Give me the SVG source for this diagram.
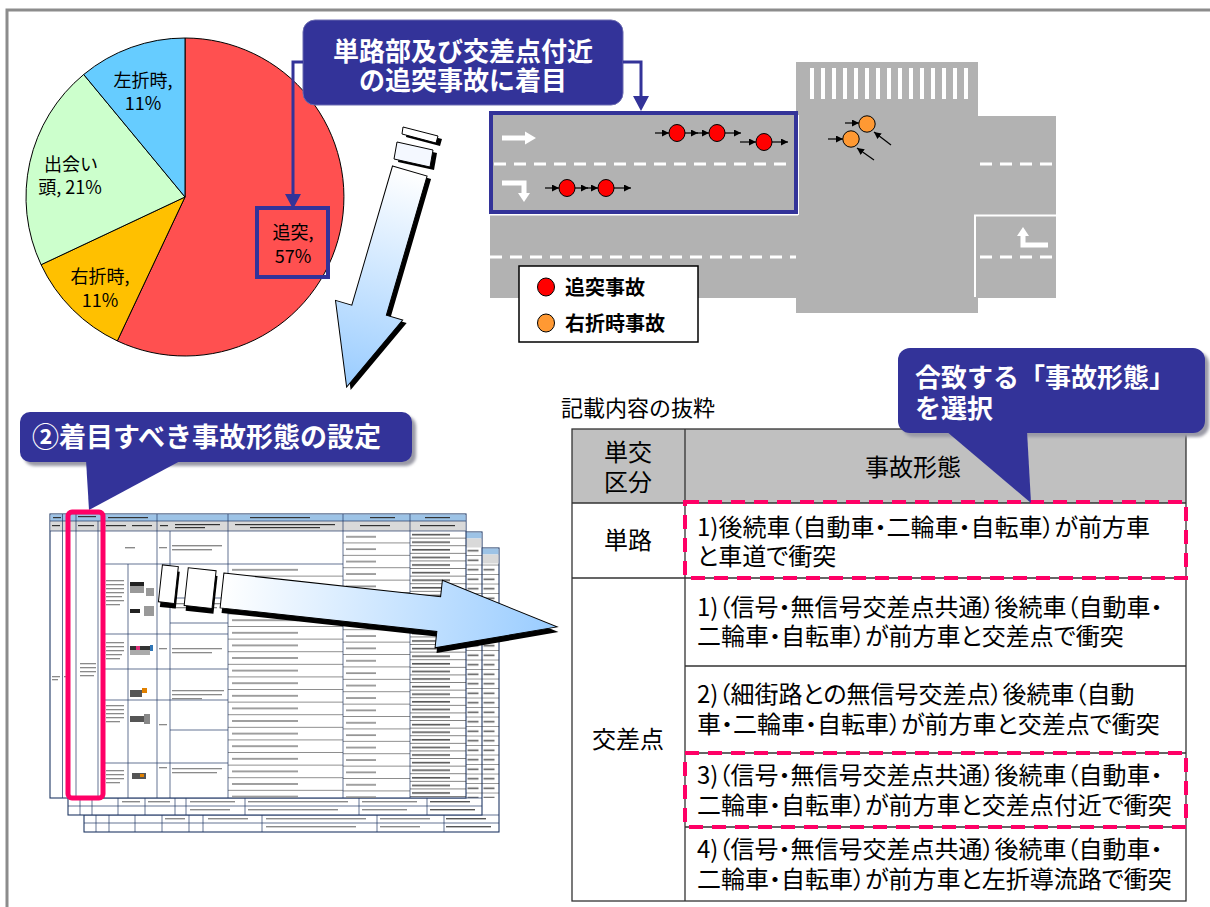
<svg xmlns="http://www.w3.org/2000/svg" width="1210" height="907" viewBox="0 0 1210 907">
<defs>
  <style>
    .jp{font-family:"Noto Sans CJK JP","Noto Sans",sans-serif;}
    .lbl{font-size:18px;fill:#000;text-anchor:middle;}
    .call{font-size:26px;font-weight:bold;fill:#fff;}
    .cell{font-size:24px;fill:#000;font-feature-settings:"palt";}
    .ctr{text-anchor:middle;}
    .grid{stroke:#333;stroke-width:1.3;fill:none;}
    .pink{fill:none;stroke:#FF0066;stroke-width:4;stroke-dasharray:14 9;}
    .navy{fill:#333399;}
    .lane{stroke:#fff;stroke-width:3;stroke-dasharray:12 8;fill:none;}
    .tick{stroke:#000;stroke-width:1.2;fill:none;marker-end:url(#ah);}
    .red{fill:#FF0000;stroke:#000;stroke-width:1;}
    .org{fill:#FF9933;stroke:#000;stroke-width:1;}
    .slice{stroke:#000;stroke-width:1;}
    .sg{stroke:#1F3864;stroke-width:0.7;fill:none;}
    .sheet{fill:#fff;stroke:#1F3864;stroke-width:1.1;}
    .tb{fill:#8a8a8a;}
    .dk{fill:#333;}
  </style>
  <marker id="ah" markerUnits="userSpaceOnUse" markerWidth="8" markerHeight="7" refX="7" refY="3.5" orient="auto">
    <path d="M0,0 L7,3.5 L0,7 z" fill="#000"/>
  </marker>
  <linearGradient id="gDown" x1="0" y1="0" x2="0" y2="1">
    <stop offset="0" stop-color="#FFFFFF"/>
    <stop offset="1" stop-color="#99CCFF"/>
  </linearGradient>
  <linearGradient id="gRight" x1="0" y1="0" x2="1" y2="0">
    <stop offset="0" stop-color="#FFFFFF"/>
    <stop offset="1" stop-color="#99CCFF"/>
  </linearGradient>
  <filter id="soft" x="-10%" y="-10%" width="120%" height="130%">
    <feGaussianBlur stdDeviation="1.6"/>
  </filter>
  <!-- cell fillers for the thumbnail sheets: row rules plus grey bars for tiny print -->
  <pattern id="pA" patternUnits="userSpaceOnUse" x="228" y="564" width="115" height="12.6">
    <rect x="4" y="5" width="66" height="1.6" class="tb"/>
    <rect x="0" y="12" width="115" height="0.6" fill="#444"/>
  </pattern>
  <pattern id="pB" patternUnits="userSpaceOnUse" x="343" y="531" width="67" height="12.4">
    <rect x="3" y="5" width="30" height="1.6" class="tb"/>
    <rect x="0" y="11.8" width="67" height="0.6" fill="#444"/>
  </pattern>
  <pattern id="pC" patternUnits="userSpaceOnUse" x="410" y="531" width="56" height="7.6">
    <rect x="2" y="2.8" width="38" height="1.6" fill="#555"/>
    <rect x="0" y="7" width="56" height="0.6" fill="#333"/>
  </pattern>
  <pattern id="pD" patternUnits="userSpaceOnUse" x="466" y="537" width="16" height="9.5">
    <rect x="1.5" y="3.5" width="11" height="1.5" fill="#555"/>
    <rect x="0" y="9" width="16" height="0.5" fill="#333"/>
  </pattern>
</defs>

<!-- page frame -->
<path d="M7,907 V10 H1210" fill="none" stroke="#8C8C8C" stroke-width="3"/>

<!-- pie chart of accident types -->
<g id="pie">
  <path class="slice" fill="#FF5050" d="M185,197 L185,38 A159,159 0 1,1 117.3,340.9 Z"/>
  <path class="slice" fill="#FFC000" d="M185,197 L117.3,340.9 A159,159 0 0,1 41.1,264.7 Z"/>
  <path class="slice" fill="#CCFFCC" d="M185,197 L41.1,264.7 A159,159 0 0,1 83.7,74.5 Z"/>
  <path class="slice" fill="#66CCFF" d="M185,197 L83.7,74.5 A159,159 0 0,1 185,38 Z"/>
  <text class="jp lbl" x="143" y="87">左折時,</text>
  <text class="jp lbl" x="143" y="110">11%</text>
  <text class="jp lbl" x="71" y="171">出会い</text>
  <text class="jp lbl" x="70" y="194">頭, 21%</text>
  <text class="jp lbl" x="100" y="283">右折時,</text>
  <text class="jp lbl" x="100" y="307">11%</text>
  <rect x="257" y="208" width="71" height="69" fill="none" stroke="#333399" stroke-width="4"/>
  <text class="jp lbl" x="293" y="239">追突,</text>
  <text class="jp lbl" x="293" y="263">57%</text>
</g>

<!-- road plan with accident positions -->
<g id="road">
  <rect x="490" y="112" width="308" height="186" fill="#B2B2B2"/>
  <rect x="796" y="62" width="182" height="251" fill="#B2B2B2"/>
  <rect x="976" y="116" width="80" height="182" fill="#B2B2B2"/>
  <!-- crosswalk -->
  <g fill="#fff">
    <rect x="810" y="68" width="4" height="31"/><rect x="821" y="68" width="4" height="31"/>
    <rect x="832" y="68" width="4" height="31"/><rect x="843" y="68" width="4" height="31"/>
    <rect x="854" y="68" width="4" height="31"/><rect x="865" y="68" width="4" height="31"/>
    <rect x="876" y="68" width="4" height="31"/><rect x="887" y="68" width="4" height="31"/>
    <rect x="898" y="68" width="4" height="31"/><rect x="909" y="68" width="4" height="31"/>
    <rect x="920" y="68" width="4" height="31"/><rect x="931" y="68" width="4" height="31"/>
    <rect x="942" y="68" width="4" height="31"/><rect x="953" y="68" width="4" height="31"/>
    <rect x="964" y="68" width="4" height="31"/>
  </g>
  <!-- lane edges -->
  <path d="M490,214.5 H798 M798,115 V215 M975,297 V215.5 H1056" fill="none" stroke="#fff" stroke-width="2"/>
  <path class="lane" d="M494,164 H794 M980,164 H1056 M490,257 H796 M980,257 H1056"/>
  <!-- road markings -->
  <path d="M502,138 H526" stroke="#fff" stroke-width="5"/>
  <polygon points="525,131.5 536,138 525,144.5" fill="#fff"/>
  <path d="M502,183 H524 V194" stroke="#fff" stroke-width="5" fill="none"/>
  <polygon points="518,193 530,193 524,202" fill="#fff"/>
  <path d="M1048,245 H1023 V234" stroke="#fff" stroke-width="5" fill="none"/>
  <polygon points="1017,236 1029,236 1023,227" fill="#fff"/>
  <!-- focus frame -->
  <rect x="491" y="113" width="305" height="99" fill="none" stroke="#333399" stroke-width="4"/>
</g>

<g id="accidents">
  <path class="tick" d="M655,133 H669"/>
  <path class="tick" d="M685,133 H698"/>
  <path class="tick" d="M697,133 H709"/>
  <path class="tick" d="M725,133 H741"/>
  <path class="tick" d="M740,142 H756" stroke-width="2"/>
  <path class="tick" d="M772,142 H788"/>
  <path class="tick" d="M545,188 H559"/>
  <path class="tick" d="M575,188 H588"/>
  <path class="tick" d="M587,188 H598"/>
  <path class="tick" d="M614,188 H631"/>
  <ellipse class="red" cx="677" cy="133" rx="8" ry="8.5"/>
  <ellipse class="red" cx="717" cy="133" rx="8" ry="8.5"/>
  <ellipse class="red" cx="764" cy="142" rx="8" ry="8.5"/>
  <ellipse class="red" cx="567" cy="188" rx="8" ry="8.5"/>
  <ellipse class="red" cx="606" cy="188" rx="8" ry="8.5"/>
  <path class="tick" d="M845,123 H859"/>
  <path class="tick" d="M828,139 H843"/>
  <path class="tick" d="M891,145 L874,132"/>
  <path class="tick" d="M874,160 L857,148"/>
  <circle class="org" cx="867" cy="124" r="8.2"/>
  <circle class="org" cx="851" cy="139" r="8.2"/>
</g>

<g id="legend">
  <rect x="519" y="266" width="179" height="76" fill="#fff" stroke="#000" stroke-width="1.5"/>
  <ellipse class="red" cx="546" cy="287" rx="8.5" ry="9"/>
  <ellipse class="org" cx="546" cy="323" rx="8.5" ry="9"/>
  <text class="jp" x="565" y="295" font-size="20" font-weight="bold">追突事故</text>
  <text class="jp" x="565" y="331" font-size="20" font-weight="bold">右折時事故</text>
</g>

<!-- callout: focus on rear-end collisions -->
<g id="callout-focus">
  <rect x="303" y="20" width="320" height="85" rx="12" class="navy" stroke="#6A6AB0" stroke-width="1"/>
  <text class="jp call ctr" x="463" y="61">単路部及び交差点付近</text>
  <text class="jp call ctr" x="463" y="90">の追突事故に着目</text>
</g>

<g id="connectors">
  <path d="M303,62 H293 V196" fill="none" stroke="#333399" stroke-width="3"/>
  <polygon points="285,194 301,194 293,209" fill="#333399"/>
  <path d="M623,62 H641 V98" fill="none" stroke="#333399" stroke-width="3"/>
  <polygon points="633,96 649,96 641,111" fill="#333399"/>
</g>

<!-- big downward arrow -->
<g id="arrow-down">
  <g fill="#000" transform="translate(4,3)">
    <polygon points="403,127 438,136 436,143 402,134"/>
    <polygon points="397,142 433,150 430,167 394,159"/>
    <polygon transform="translate(409.5,172) rotate(16.3)" points="-18,-1 18,-1 18,144 35,144 0,224 -35,144 -18,144"/>
  </g>
  <polygon points="403,127 438,136 436,143 402,134" fill="#fff" stroke="#000" stroke-width="1"/>
  <polygon points="397,142 433,150 430,167 394,159" fill="#F4F8FF" stroke="#000" stroke-width="1"/>
  <polygon transform="translate(409.5,172) rotate(16.3)" points="-18,-1 18,-1 18,144 35,144 0,224 -35,144 -18,144" fill="url(#gDown)" stroke="#000" stroke-width="1"/>
</g>

<!-- callout: setting the accident type -->
<g id="callout-setting">
  <g fill="#9A9AA6" filter="url(#soft)" transform="translate(4,4)">
    <rect x="20" y="412" width="392" height="50" rx="10"/>
  </g>
  <rect x="20" y="412" width="392" height="50" rx="10" class="navy"/>
  <polygon points="86,460 182,460 89,510" class="navy"/>
  <text class="jp" x="32" y="447" font-size="27" font-weight="bold" fill="#fff">②着目すべき事故形態の設定</text>
</g>

<!-- thumbnail of the accident-type sheets -->
<g id="sheets">
  <!-- back sheet -->
  <rect class="sheet" x="84" y="548" width="415" height="284"/>
  <rect x="84.5" y="548.5" width="414" height="6" fill="#9DC3E6"/>
  <rect x="84.5" y="554.5" width="414" height="9" fill="#D9D9D9"/>
  <rect x="482" y="564" width="17" height="234" fill="url(#pD)"/>
  <path class="sg" d="M84,815 H499 M84,823 H499 M96,815V832 M109,815V832 M135,815V832 M162,815V832 M189,815V832 M203,815V832 M262,815V832 M377,815V832 M444,815V832"/>
  <rect x="208" y="818" width="40" height="1.4" class="tb"/><rect x="266" y="818" width="100" height="1.4" class="tb"/>
  <rect x="380" y="818" width="50" height="1.4" class="tb"/><rect x="266" y="826" width="90" height="1.4" class="tb"/>
  <rect x="380" y="826" width="40" height="1.4" class="tb"/><rect x="446" y="818" width="40" height="1.4" fill="#555"/>
  <rect x="446" y="826" width="45" height="1.4" fill="#555"/><rect x="165" y="818" width="20" height="1.4" class="tb"/>
  <!-- middle sheet -->
  <rect class="sheet" x="68" y="532" width="414" height="283"/>
  <rect x="68.5" y="532.5" width="413" height="6" fill="#9DC3E6"/>
  <rect x="68.5" y="538.5" width="413" height="9" fill="#D9D9D9"/>
  <rect x="466" y="548" width="16" height="250" fill="url(#pD)"/>
  <path class="sg" d="M68,798 H482 M68,806 H482 M80,798V815 M92,798V815 M118,798V815 M145,798V815 M175,798V815 M186,798V815 M245,798V815 M359,798V815 M427,798V815"/>
  <rect x="148" y="801" width="22" height="1.4" class="tb"/><rect x="190" y="801" width="45" height="1.4" class="tb"/>
  <rect x="248" y="801" width="100" height="1.4" class="tb"/><rect x="362" y="801" width="55" height="1.4" class="tb"/>
  <rect x="190" y="809" width="40" height="1.4" class="tb"/><rect x="248" y="809" width="90" height="1.4" class="tb"/>
  <rect x="362" y="809" width="45" height="1.4" class="tb"/><rect x="430" y="801" width="40" height="1.4" fill="#555"/>
  <rect x="430" y="809" width="45" height="1.4" fill="#555"/><rect x="122" y="801" width="18" height="1.4" class="tb"/>
  <!-- front sheet -->
  <rect class="sheet" x="50" y="514" width="416" height="284"/>
  <rect x="50.5" y="514.5" width="415" height="6.5" fill="#9DC3E6"/>
  <rect x="50.5" y="521" width="415" height="10" fill="#D9D9D9"/>
  <rect x="228" y="564" width="115" height="234" fill="url(#pA)"/>
  <rect x="343" y="531" width="67" height="267" fill="url(#pB)"/>
  <rect x="410" y="531" width="56" height="267" fill="url(#pC)"/>
  <path class="sg" d="M62.5,514V798 M68,521V798 M76,514V798 M98,521V798 M104,514V798 M128,564V798 M157,514V798 M170,531V798 M228,514V798 M343,514V798 M410,514V798 M50,521H466 M50,531H466 M104,564H343 M104,634H228 M104,669H228 M104,700H228 M170,598H228 M170,623H228 M104,763H228 M170,730H228" stroke-width="0.9"/>
  <!-- header print -->
  <g class="dk">
    <rect x="53" y="517" width="8" height="1.2"/><rect x="108" y="517" width="40" height="1.2"/>
    <rect x="250" y="517" width="60" height="1.2"/><rect x="370" y="517" width="25" height="1.2"/>
    <rect x="425" y="517" width="25" height="1.2"/><rect x="52" y="525" width="8" height="1.2"/>
    <rect x="78" y="525" width="16" height="1.2"/><rect x="106" y="525" width="20" height="1.2"/>
    <rect x="132" y="525" width="20" height="1.2"/><rect x="160" y="525" width="8" height="1.2"/>
    <rect x="175" y="524" width="45" height="1.2"/><rect x="175" y="527" width="30" height="1.2"/>
    <rect x="235" y="524" width="100" height="1.2"/><rect x="250" y="527" width="70" height="1.2"/>
    <rect x="360" y="525" width="30" height="1.2"/><rect x="420" y="525" width="35" height="1.2"/>
    <rect x="78" y="516" width="18" height="1.2"/>
  </g>
  <!-- cell print -->
  <g class="tb">
    <rect x="125" y="547" width="10" height="1.4"/>
    <rect x="172" y="545" width="50" height="1.4"/><rect x="172" y="549" width="40" height="1.4"/>
    <rect x="106" y="580" width="18" height="1.3"/><rect x="106" y="584" width="18" height="1.3"/>
    <rect x="106" y="588" width="18" height="1.3"/><rect x="106" y="592" width="18" height="1.3"/>
    <rect x="106" y="596" width="16" height="1.3"/><rect x="106" y="600" width="18" height="1.3"/>
    <rect x="106" y="604" width="14" height="1.3"/>
    <rect x="106" y="642" width="18" height="1.3"/><rect x="106" y="646" width="18" height="1.3"/>
    <rect x="106" y="650" width="18" height="1.3"/><rect x="106" y="654" width="16" height="1.3"/>
    <rect x="106" y="658" width="14" height="1.3"/>
    <rect x="106" y="705" width="18" height="1.3"/><rect x="106" y="709" width="18" height="1.3"/>
    <rect x="106" y="713" width="18" height="1.3"/><rect x="106" y="717" width="18" height="1.3"/>
    <rect x="106" y="721" width="14" height="1.3"/>
    <rect x="106" y="770" width="18" height="1.3"/><rect x="106" y="774" width="18" height="1.3"/>
    <rect x="106" y="778" width="18" height="1.3"/><rect x="106" y="782" width="14" height="1.3"/>
    <rect x="172" y="603" width="50" height="1.3"/><rect x="172" y="607" width="45" height="1.3"/>
    <rect x="172" y="648" width="50" height="1.3"/><rect x="172" y="652" width="40" height="1.3"/>
    <rect x="172" y="690" width="52" height="1.3"/><rect x="172" y="694" width="50" height="1.3"/>
    <rect x="172" y="698" width="30" height="1.3"/><rect x="172" y="768" width="50" height="1.3"/>
    <rect x="172" y="772" width="45" height="1.3"/>
    <rect x="159" y="547" width="8" height="1.3"/><rect x="159" y="648" width="8" height="1.3"/>
    <rect x="159" y="724" width="8" height="1.3"/><rect x="159" y="767" width="8" height="1.3"/>
    <rect x="52" y="676" width="8" height="1.3"/><rect x="52" y="679" width="6" height="1.3"/>
    <rect x="64" y="676" width="3" height="1.3"/>
    <rect x="80" y="663" width="16" height="1.3"/><rect x="80" y="667" width="16" height="1.3"/>
    <rect x="80" y="671" width="16" height="1.3"/><rect x="80" y="675" width="14" height="1.3"/>
  </g>
  <!-- small figure thumbnails -->
  <rect x="130" y="582" width="14" height="4" fill="#222"/><rect x="130" y="586" width="14" height="7" fill="#999"/>
  <rect x="146" y="588" width="8" height="8" fill="#999"/>
  <rect x="130" y="609" width="10" height="4" fill="#222"/><rect x="144" y="606" width="10" height="10" fill="#999"/>
  <rect x="130" y="646" width="20" height="4" fill="#333"/><rect x="136" y="646" width="4" height="4" fill="#E0307A"/>
  <rect x="150" y="645" width="3" height="6" fill="#2E75B6"/><rect x="130" y="650" width="20" height="5" fill="#aaa"/>
  <rect x="130" y="690" width="12" height="7" fill="#555"/><rect x="142" y="688" width="5" height="5" fill="#E08000"/>
  <rect x="130" y="716" width="14" height="6" fill="#555"/><rect x="144" y="714" width="6" height="10" fill="#888"/>
  <rect x="132" y="773" width="14" height="6" fill="#555"/><rect x="140" y="774" width="4" height="3" fill="#E08000"/>
  <!-- highlighted column -->
  <rect x="68" y="512" width="35" height="286" rx="4" fill="none" stroke="#FF0066" stroke-width="5"/>
</g>

<!-- horizontal arrow toward the table -->
<g id="arrow-right" transform="translate(222,590.5) rotate(6.2)">
  <g fill="#000" transform="translate(2,5)">
    <rect x="-62" y="-19" width="16" height="37"/>
    <rect x="-36" y="-19" width="28" height="38"/>
    <polygon points="0,-17.5 218,-17.5 218,-34 337,0 218,34 218,17.5 0,17.5"/>
  </g>
  <rect x="-62" y="-19" width="16" height="37" fill="#fff" stroke="#000" stroke-width="1"/>
  <rect x="-36" y="-19" width="28" height="38" fill="#fff" stroke="#000" stroke-width="1"/>
  <polygon points="0,-17.5 218,-17.5 218,-34 337,0 218,34 218,17.5 0,17.5" fill="url(#gRight)" stroke="#000" stroke-width="1"/>
</g>

<!-- excerpt table -->
<text class="jp" x="561" y="416" font-size="22">記載内容の抜粋</text>
<g id="table">
  <rect x="572" y="429" width="614" height="74" fill="#C0C0C0"/>
  <rect x="572" y="503" width="614" height="398" fill="#fff"/>
  <rect class="grid" x="572" y="429" width="614" height="472"/>
  <path class="grid" d="M685,429 V901 M572,503 H1186 M572,578 H1186 M685,666 H1186 M685,753 H1186 M685,827 H1186"/>
  <text class="jp cell ctr" x="628" y="461">単交</text>
  <text class="jp cell ctr" x="628" y="491">区分</text>
  <text class="jp cell ctr" x="913" y="476">事故形態</text>
  <text class="jp cell ctr" x="628" y="549">単路</text>
  <text class="jp cell ctr" x="628" y="748">交差点</text>
  <text class="jp cell" x="697" y="536">1)後続車（自動車・二輪車・自転車）が前方車</text>
  <text class="jp cell" x="697" y="565">と車道で衝突</text>
  <text class="jp cell" x="697" y="616">1)（信号・無信号交差点共通）後続車（自動車・</text>
  <text class="jp cell" x="697" y="645">二輪車・自転車）が前方車と交差点で衝突</text>
  <text class="jp cell" x="697" y="703">2)（細街路との無信号交差点）後続車（自動</text>
  <text class="jp cell" x="697" y="733">車・二輪車・自転車）が前方車と交差点で衝突</text>
  <text class="jp cell" x="697" y="784">3)（信号・無信号交差点共通）後続車（自動車・</text>
  <text class="jp cell" x="697" y="814">二輪車・自転車）が前方車と交差点付近で衝突</text>
  <text class="jp cell" x="697" y="858">4)（信号・無信号交差点共通）後続車（自動車・</text>
  <text class="jp cell" x="697" y="888">二輪車・自転車）が前方車と左折導流路で衝突</text>
  <rect class="pink" x="685" y="502" width="501" height="76"/>
  <rect class="pink" x="685" y="753" width="501" height="74"/>
</g>

<!-- callout: choose the matching accident type -->
<g id="callout-select">
  <g fill="#9A9AA6" filter="url(#soft)" transform="translate(4,4)">
    <rect x="898" y="348" width="307" height="85" rx="12"/>
  </g>
  <rect x="898" y="348" width="307" height="85" rx="12" class="navy"/>
  <polygon points="946,431 1027,431 1031,503" class="navy"/>
  <text class="jp call" x="915" y="387">合致する「事故形態」</text>
  <text class="jp call" x="915" y="418">を選択</text>
</g>
</svg>
